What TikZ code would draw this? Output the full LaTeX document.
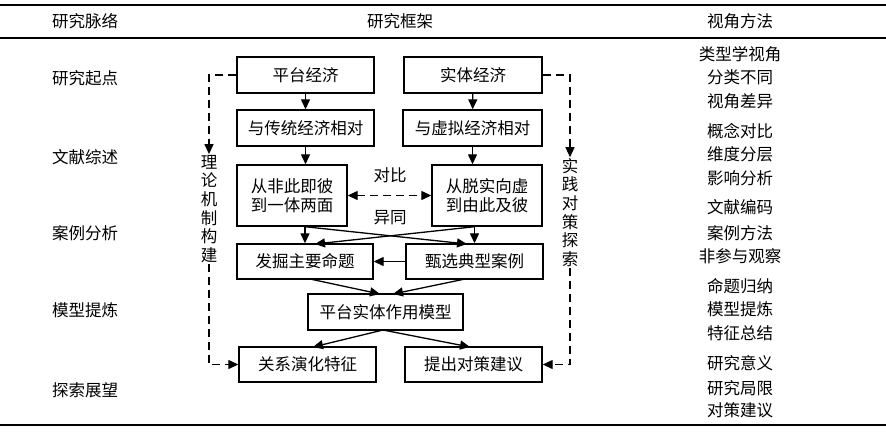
\documentclass[tikz,border=0pt]{standalone}
\usepackage{fontspec}
\newfontfamily\cjk{Noto Sans CJK SC}
\usetikzlibrary{arrows.meta}
\tikzset{
  txt/.style={font=\cjk\fontsize{16.5}{18.6}\selectfont, inner sep=1pt},
  bx/.style={draw, line width=1.4pt, txt, minimum height=36pt},
  tip/.style={},
  arr/.style={line width=1.3pt, -{Triangle[length=10pt,width=9pt]}},
  darr/.style={arr, dash pattern=on 8pt off 5pt},
}
\begin{document}
\begin{tikzpicture}[x=1pt,y=-1pt]
\useasboundingbox (0,0) rectangle (886,432);
\fill[white] (0,0) rectangle (886,432);
% rules
\draw[line width=2.4pt] (0,5) -- (886,5);
\draw[line width=1.1pt] (0,38) -- (886,38);
\draw[line width=2.4pt] (0,425) -- (886,425);
% headers
\node[txt] (h1) at (85,21) {研究脉络};
\node[txt] (h2) at (400,21) {研究框架};
\node[txt] (h3) at (740,21) {视角方法};
% left column
\node[txt] (l1) at (85,78) {研究起点};
\node[txt] (l2) at (85,157) {文献综述};
\node[txt] (l3) at (85,233) {案例分析};
\node[txt] (l4) at (85,310) {模型提炼};
\node[txt] (l5) at (85,390) {探索展望};
% right column
\foreach \t/\y [count=\i] in {类型学视角/54,分类不同/77,视角差异/101,概念对比/131,维度分层/154,影响分析/178,文献编码/207,案例方法/233,非参与观察/256,命题归纳/286,模型提炼/309,特征总结/333,研究意义/363,研究局限/388,对策建议/410}
  \node[txt] (m\i) at (740,\y) {\t};
% boxes
\node[bx, minimum width=137pt] (pt) at (305.5,75) {平台经济};
\node[bx, minimum width=138pt] (st) at (473,75) {实体经济};
\node[bx, minimum width=137pt] (ct) at (305.5,128) {与传统经济相对};
\node[bx, minimum width=139pt] (xn) at (472.5,128) {与虚拟经济相对};
\node[bx, minimum width=110pt, minimum height=61pt, align=center] (a) at (292,195.5) {从非此即彼\\到一体两面};
\node[bx, minimum width=110pt, minimum height=61pt, align=center] (b) at (487,195.5) {从脱实向虚\\到由此及彼};
\node[bx, minimum width=136pt, minimum height=35pt] (fj) at (305,261.5) {发掘主要命题};
\node[bx, minimum width=137pt, minimum height=35pt] (zx) at (474.5,261.5) {甄选典型案例};
\node[bx, minimum width=155pt] (mx) at (385.5,312) {平台实体作用模型};
\node[bx, minimum width=137pt, minimum height=35pt] (gx) at (307.5,364.5) {关系演化特征};
\node[bx, minimum width=137pt, minimum height=35pt] (tc) at (473.5,364.5) {提出对策建议};
% vertical labels
\node[txt, align=center] (lt) at (209,209) {理\\论\\机\\制\\构\\建};
\node[txt, align=center] (rt) at (570,212.5) {实\\践\\对\\策\\探\\索};
% arrows
\draw[arr] (pt) -- (ct);
\draw[arr] (st) -- (xn);
\draw[arr] (ct.south) -- (ct.south |- a.north);
\draw[arr] (xn.south) -- (xn.south |- b.north);
\draw[darr, {Triangle[length=10pt,width=9pt]}-{Triangle[length=10pt,width=9pt]}] (a.east) -- (b.west);
\node[txt] (db) at (390,175) {对比};
\node[txt] (yt) at (390,218) {异同};
\coordinate (aS) at (a.south -| fj.north);
\coordinate (bS) at (b.south -| zx.north);
\draw[arr] (aS) -- (fj.north);
\draw[arr] (bS) -- (zx.north);
\draw[arr] (aS) -- (467,244);
\draw[arr] (bS) -- (315,244);
\draw[arr] (zx.west) -- (fj.east);
\draw[arr] (310,279) -- (380,294);
\draw[arr] (465,279) -- (393,294);
\coordinate (mS) at (383,330);
\draw[arr] (mS) -- (313,347);
\draw[arr] (mS) -- (470,347);
% dashed side paths
\draw[darr] (pt.west) -| (lt.north);
\draw[darr] (lt.south) |- (gx.west);
\draw[darr] (st.east) -| (rt.north);
\draw[darr] (rt.south) |- (tc.east);
\end{tikzpicture}
\end{document}
